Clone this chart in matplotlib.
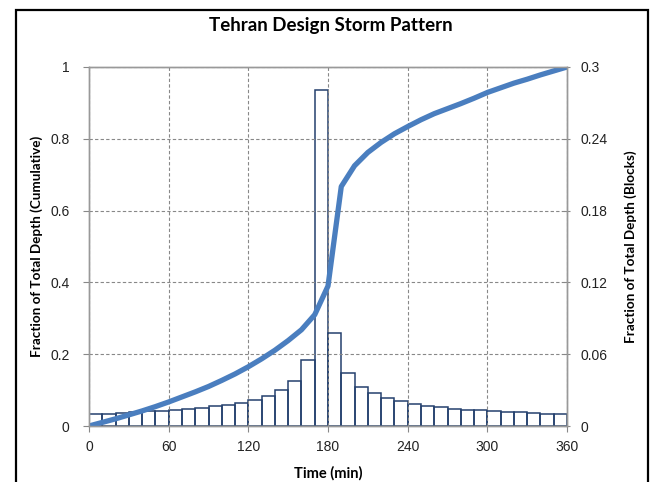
import matplotlib.pyplot as plt
from matplotlib.patches import Rectangle
import numpy as np

# block (10-min) fractions, right axis
block_start = np.arange(0, 360, 10)
block_frac = [0.010, 0.010, 0.0105, 0.0115, 0.0123, 0.0128, 0.0136, 0.0142, 0.0153,
              0.0164, 0.0178, 0.0195, 0.0220, 0.0250, 0.0298, 0.0379, 0.0554, 0.2808,
              0.0780, 0.0446, 0.0329, 0.0273, 0.0237, 0.0209, 0.0187, 0.0170, 0.0156,
              0.0145, 0.0136, 0.0131, 0.0125, 0.0120, 0.0114, 0.0109, 0.0103, 0.0100]

# cumulative fraction, left axis
cum_time = np.arange(0, 370, 10)
cum_frac = [0, 0.010, 0.020, 0.031, 0.042, 0.054, 0.067, 0.081, 0.095, 0.110,
            0.127, 0.145, 0.165, 0.187, 0.211, 0.238, 0.268, 0.310, 0.390,
            0.667, 0.725, 0.762, 0.790, 0.814, 0.834, 0.853, 0.870, 0.884,
            0.898, 0.913, 0.929, 0.942, 0.955, 0.966, 0.978, 0.989, 1.0]

x_ticks = [0, 60, 120, 180, 240, 300, 360]
left_ticks = [0, 0.2, 0.4, 0.6, 0.8, 1]
left_labels = ['0', '0.2', '0.4', '0.6', '0.8', '1']
right_ticks = [0, 0.06, 0.12, 0.18, 0.24, 0.3]
right_labels = ['0', '0.06', '0.12', '0.18', '0.24', '0.3']

W, H = 654, 482
fig = plt.figure(figsize=(W / 100, H / 100), dpi=100)
fig.patch.set_facecolor('white')

# outer frame
fig.patches.append(Rectangle((16 / W, -0.05), 632 / W, 1.05 - 10 / H,
                             transform=fig.transFigure, fill=False,
                             edgecolor='black', linewidth=1.6))

ax = fig.add_axes([89 / W, (H - 426) / H, (567 - 89) / W, (426 - 67) / H])
ax2 = ax.twinx()

# bars behind, curve on top
ax2.set_zorder(1)
ax.set_zorder(2)
ax.patch.set_visible(False)

ax2.bar(block_start, block_frac, width=10, align='edge', facecolor='none',
        edgecolor='#24406e', linewidth=1.1)
ax.plot(cum_time, cum_frac, color='#4a7ebf', linewidth=3.8, solid_capstyle='butt')

ax.set_xlim(0, 360)
ax.set_ylim(0, 1)
ax2.set_ylim(0, 0.3)

ax.set_xticks(x_ticks)
ax.set_yticks(left_ticks)
ax.set_yticklabels(left_labels)
ax2.set_yticks(right_ticks)
ax2.set_yticklabels(right_labels)

for lab in ax.get_xticklabels() + ax.get_yticklabels() + ax2.get_yticklabels():
    lab.set_fontfamily('Liberation Sans')
    lab.set_fontsize(10)
    lab.set_color('#222222')

ax.grid(True, color='#888888', linestyle=(0, (3, 2)), linewidth=0.8)
ax.tick_params(axis='both', length=4, color='#888888', direction='out')
ax.tick_params(axis='y', pad=10)
ax.tick_params(axis='x', pad=6)
ax2.tick_params(axis='y', length=4, color='#888888', direction='inout', pad=8)

for a in (ax, ax2):
    for s in a.spines.values():
        s.set_color('#999999')
        s.set_linewidth(1.0)

lab_font = dict(family='Lato', weight='bold', size=9.7)
ax.set_ylabel('Fraction of Total Depth (Cumulative)', fontdict=lab_font, labelpad=5)
ax2.set_ylabel('Fraction of Total Depth (Blocks)', fontdict=lab_font, labelpad=12)
ax.set_xlabel('Time (min)', fontdict=dict(family='Lato', weight='bold', size=10.5),
              labelpad=9)

fig.text(331 / W, 1 - 25 / H, 'Tehran Design Storm Pattern', ha='center', va='center',
         family='Lato', weight='bold', size=13.5)

fig.savefig('out.png', dpi=100)
